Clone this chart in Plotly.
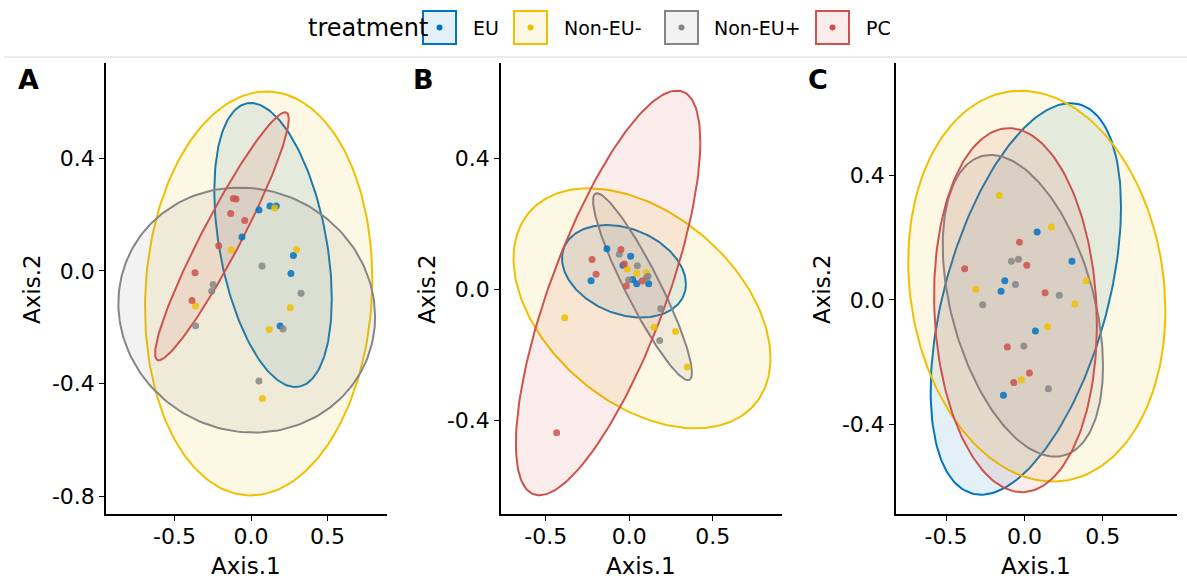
import numpy as np
import plotly.graph_objects as go

W, H = 1187, 579

groups = ["EU", "Non-EU-", "Non-EU+", "PC"]
colors = ["#0073C2", "#EFC000", "#868686", "#CD534C"]

# ---------------- Panel A points ----------------
A_EU_x = [0.052, 0.124, 0.165, -0.059, 0.277, 0.261, 0.190]
A_EU_y = [0.216, 0.230, 0.230, 0.120, 0.055, -0.009, -0.196]
A_NEm_x = [0.155, -0.129, 0.298, -0.362, 0.257, 0.120, 0.074]
A_NEm_y = [0.223, 0.074, 0.076, -0.125, -0.131, -0.208, -0.453]
A_NEp_x = [0.072, -0.248, -0.257, 0.327, -0.362, 0.209, 0.052]
A_NEp_y = [0.017, -0.048, -0.072, -0.079, -0.195, -0.206, -0.391]
A_PC_x = [-0.098, -0.116, -0.133, -0.041, -0.211, -0.366, -0.386]
A_PC_y = [0.255, 0.257, 0.204, 0.179, 0.089, -0.007, -0.105]

# ---------------- Panel B points ----------------
B_EU_x = [-0.134, 0.008, -0.038, -0.229, 0.044, 0.116, 0.020]
B_EU_y = [0.124, 0.101, 0.073, 0.026, 0.017, 0.017, 0.030]
B_NEm_x = [-0.012, 0.044, 0.102, -0.387, 0.148, 0.277, 0.347]
B_NEm_y = [0.062, 0.048, 0.051, -0.087, -0.116, -0.129, -0.237]
B_NEp_x = [-0.060, 0.048, -0.004, 0.102, 0.112, 0.188, 0.182]
B_NEp_y = [0.107, 0.072, 0.028, 0.034, 0.040, -0.059, -0.156]
B_PC_x = [-0.050, -0.223, -0.199, -0.030, -0.018, 0.076, -0.435]
B_PC_y = [0.121, 0.091, 0.046, 0.077, 0.010, 0.025, -0.437]

# ---------------- Panel C points ----------------
C_EU_x = [0.081, 0.303, -0.125, -0.149, 0.070, -0.134]
C_EU_y = [0.218, 0.124, 0.061, 0.028, -0.100, -0.306]
C_NEm_x = [-0.160, 0.172, 0.394, -0.310, 0.322, 0.147, -0.019]
C_NEm_y = [0.335, 0.234, 0.061, 0.034, -0.013, -0.086, -0.256]
C_NEp_x = [-0.083, -0.038, -0.057, -0.266, 0.222, -0.004, 0.153]
C_NEp_y = [0.124, 0.130, 0.049, -0.016, 0.015, -0.148, -0.285]
C_PC_x = [-0.032, -0.381, 0.015, 0.132, -0.109, 0.032, -0.068]
C_PC_y = [0.185, 0.100, 0.111, 0.023, -0.151, -0.235, -0.265]

# ---------------- Ellipse parameters (order: EU, Non-EU-, Non-EU+, PC) ----------------
A_ell_cx = [0.144, 0.050, -0.028, -0.190]
A_ell_cy = [0.092, -0.080, -0.139, 0.123]
A_ell_rx = [0.384, 0.743, 0.839, 0.437]
A_ell_ry = [0.504, 0.717, 0.435, 0.440]
A_ell_rho = [-0.38, 0.07, -0.055, 0.945]

B_ell_cx = [-0.032, 0.076, 0.079, -0.127]
B_ell_cy = [0.055, -0.058, 0.008, -0.011]
B_ell_rx = [0.371, 0.769, 0.296, 0.552]
B_ell_ry = [0.141, 0.366, 0.285, 0.617]
B_ell_rho = [-0.28, -0.415, -0.92, 0.745]

C_ell_cx = [0.009, 0.079, -0.010, -0.057]
C_ell_cy = [0.003, 0.044, -0.019, -0.033]
C_ell_rx = [0.607, 0.820, 0.511, 0.519]
C_ell_ry = [0.628, 0.627, 0.484, 0.584]
C_ell_rho = [0.47, -0.125, -0.40, -0.08]

panel_labels = ["A", "B", "C"]
x_ticks = [-0.5, 0.0, 0.5]
x_ticklabels = ["-0.5", "0.0", "0.5"]
A_y_ticks = [-0.8, -0.4, 0.0, 0.4]
A_y_ticklabels = ["-0.8", "-0.4", "0.0", "0.4"]
BC_y_ticks = [-0.4, 0.0, 0.4]
BC_y_ticklabels = ["-0.4", "0.0", "0.4"]


def rgba(hexc, a):
    h = hexc.lstrip("#")
    r, g, b = int(h[0:2], 16), int(h[2:4], 16), int(h[4:6], 16)
    return f"rgba({r},{g},{b},{a})"


def ellipse(cx, cy, rx, ry, rho, n=200):
    t = np.linspace(0, 2 * np.pi, n)
    x = cx + rx * np.cos(t)
    y = cy + ry * (rho * np.cos(t) + np.sqrt(1 - rho ** 2) * np.sin(t))
    return x, y


panels = [
    dict(pts=[(A_EU_x, A_EU_y), (A_NEm_x, A_NEm_y), (A_NEp_x, A_NEp_y), (A_PC_x, A_PC_y)],
         ell=(A_ell_cx, A_ell_cy, A_ell_rx, A_ell_ry, A_ell_rho),
         xr=[-0.948, 0.889], yr=[-0.864, 0.738], yt=A_y_ticks, ytl=A_y_ticklabels,
         px=(106, 387)),
    dict(pts=[(B_EU_x, B_EU_y), (B_NEm_x, B_NEm_y), (B_NEp_x, B_NEp_y), (B_PC_x, B_PC_y)],
         ell=(B_ell_cx, B_ell_cy, B_ell_rx, B_ell_ry, B_ell_rho),
         xr=[-0.768, 0.914], yr=[-0.686, 0.690], yt=BC_y_ticks, ytl=BC_y_ticklabels,
         px=(501, 782)),
    dict(pts=[(C_EU_x, C_EU_y), (C_NEm_x, C_NEm_y), (C_NEp_x, C_NEp_y), (C_PC_x, C_PC_y)],
         ell=(C_ell_cx, C_ell_cy, C_ell_rx, C_ell_ry, C_ell_rho),
         xr=[-0.819, 0.973], yr=[-0.688, 0.760], yt=BC_y_ticks, ytl=BC_y_ticklabels,
         px=(896, 1177)),
]

FONT = "DejaVu Sans"
TICK_SIZE = 22
TITLE_SIZE = 23

fig = go.Figure()
top_px, bot_px = 63, 514.3
ydom = [1 - bot_px / H, 1 - top_px / H]

for i, p in enumerate(panels):
    xa = "x" if i == 0 else f"x{i+1}"
    ya = "y" if i == 0 else f"y{i+1}"
    cxs, cys, rxs, rys, rhos = p["ell"]
    for g in range(4):
        ex, ey = ellipse(cxs[g], cys[g], rxs[g], rys[g], rhos[g])
        fig.add_trace(go.Scatter(x=ex, y=ey, mode="lines", fill="toself",
                                 fillcolor=rgba(colors[g], 0.11),
                                 line=dict(color=colors[g], width=2),
                                 xaxis=xa, yaxis=ya, showlegend=False, hoverinfo="skip"))
    for g in range(4):
        xs, ys = p["pts"][g]
        fig.add_trace(go.Scatter(x=xs, y=ys, mode="markers",
                                 marker=dict(color=rgba(colors[g], 0.85), size=7, line=dict(width=0)),
                                 xaxis=xa, yaxis=ya, showlegend=False, name=groups[g]))
    axis_common = dict(showline=True, linecolor="black", linewidth=1.5, ticks="outside",
                       ticklen=5, tickwidth=1.2, tickcolor="black", showgrid=False, zeroline=False,
                       tickfont=dict(family=FONT, size=TICK_SIZE, color="black"))
    xkey = "xaxis" if i == 0 else f"xaxis{i+1}"
    ykey = "yaxis" if i == 0 else f"yaxis{i+1}"
    fig.update_layout({
        xkey: dict(domain=[p["px"][0] / W, p["px"][1] / W], range=p["xr"], anchor=ya,
                   tickvals=x_ticks, ticktext=x_ticklabels, ticklabelstandoff=-3, **axis_common),
        ykey: dict(domain=ydom, range=p["yr"], anchor=xa,
                   tickvals=p["yt"], ticktext=p["ytl"], **axis_common),
    })
    # panel label
    fig.add_annotation(x=(p["px"][0] - 78) / W, y=1 - 79 / H, xref="paper", yref="paper",
                       text=f"<b>{panel_labels[i]}</b>", showarrow=False,
                       font=dict(family=FONT, size=27, color="black"), xanchor="center", yanchor="middle")
    # axis titles
    fig.add_annotation(x=(p["px"][0] + p["px"][1]) / 2 / W - 0.0005, y=1 - 566 / H, xref="paper", yref="paper",
                       text="Axis.1", showarrow=False,
                       font=dict(family=FONT, size=TITLE_SIZE, color="black"), xanchor="center", yanchor="middle")
    fig.add_annotation(x=(p["px"][0] - 74) / W, y=1 - 289 / H, xref="paper", yref="paper",
                       text="Axis.2", showarrow=False, textangle=-90,
                       font=dict(family=FONT, size=TITLE_SIZE, color="black"), xanchor="center", yanchor="middle")

# ---------------- Manual legend ----------------
key_left = [423, 514, 665, 816]
label_left = [471, 562, 712, 864]
shapes = []
for g in range(4):
    x0, x1 = key_left[g], key_left[g] + 33
    y0, y1 = 11, 44
    shapes.append(dict(type="rect", xref="paper", yref="paper",
                       x0=x0 / W, x1=x1 / W, y0=1 - y1 / H, y1=1 - y0 / H,
                       fillcolor=rgba(colors[g], 0.11), line=dict(color=colors[g], width=2)))
    cxp, cyp = (x0 + x1) / 2, (y0 + y1) / 2
    shapes.append(dict(type="circle", xref="paper", yref="paper",
                       x0=(cxp - 3) / W, x1=(cxp + 3) / W, y0=1 - (cyp + 3) / H, y1=1 - (cyp - 3) / H,
                       fillcolor=colors[g], line=dict(width=0)))
    fig.add_annotation(x=label_left[g] / W, y=1 - 28 / H, xref="paper", yref="paper",
                       text=groups[g], showarrow=False, xanchor="left", yanchor="middle",
                       font=dict(family=FONT, size=19, color="black"))
fig.add_annotation(x=306 / W, y=1 - 28 / H, xref="paper", yref="paper",
                   text="treatment", showarrow=False, xanchor="left", yanchor="middle",
                   font=dict(family=FONT, size=24, color="black"))
shapes.append(dict(type="line", xref="paper", yref="paper", x0=4 / W, x1=1187 / W,
                   y0=1 - 57 / H, y1=1 - 57 / H, line=dict(color="#ebebeb", width=2)))

fig.update_layout(width=W, height=H, margin=dict(l=0, r=0, t=0, b=0),
                  paper_bgcolor="white", plot_bgcolor="white", shapes=shapes,
                  showlegend=False, font=dict(family=FONT))

fig.write_html("out.html")
